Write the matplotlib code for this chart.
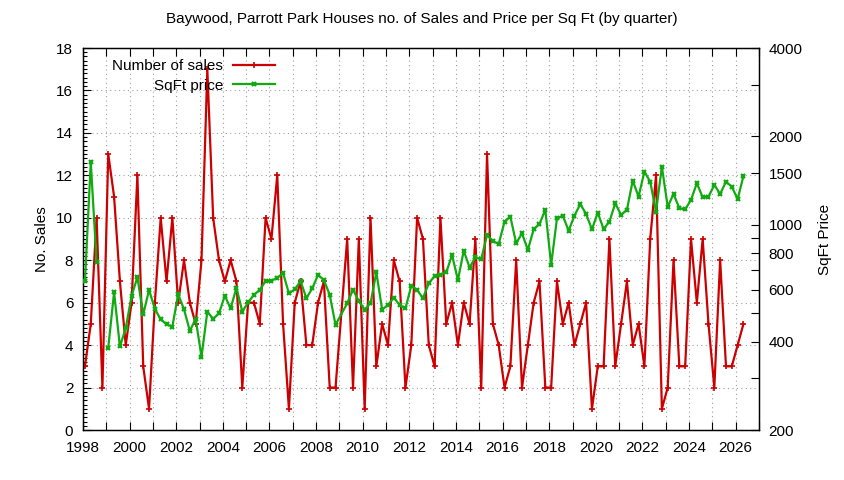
import numpy as np
import pandas as pd
import matplotlib
matplotlib.use("Agg")
import matplotlib.pyplot as plt
from matplotlib.ticker import FixedLocator, MultipleLocator, NullFormatter, FuncFormatter

title = "Baywood, Parrott Park Houses no. of Sales and Price per Sq Ft (by quarter)"
first_year = 1998
x_range = (1998, 2027)

# quarterly number of sales (None = quarter absent from the data)
sales = [3, 5, 10, 2, 13, 11, 7, 4, 6, 12,
         3, 1, 6, 10, 7, 10, 6, 8, 6, 5,
         8, 17, 10, 8, 7, 8, 7, 2, 6, 6,
         5, 10, 9, 12, 5, 1, 6, 7, 4, 4,
         6, 7, 2, 2, None, 9, 2, 9, 1, 10,
         3, 5, 4, 8, 7, 2, 4, 10, 9, 4,
         3, 10, 5, 6, 4, 6, 5, 9, 2, 13,
         5, 4, 2, 3, 8, 2, 4, 6, 7, 2,
         2, 7, 5, 6, 4, 5, 6, 1, 3, 3,
         9, 3, 5, 7, 4, 5, 3, 9, 12, 1,
         2, 8, 3, 3, 9, 6, 9, 5, 2, 8,
         3, 3, 4, 5]

# quarterly price per sq ft (NaN = no price that quarter)
price = [643, 1630, 749, np.nan, 381, 589, 385, 444, 572, 663,
         495, 600, 517, 476, 458, 450, 580, 515, 435, 478,
         355, 506, 478, 499, 573, 519, 610, 506, 544, 577,
         600, 643, 645, 659, 685, 584, 602, 643, 562, 607,
         675, 648, 578, 456, None, 540, 601, 549, 514, 540,
         689, 514, 533, 565, 533, 519, 620, 600, 562, 632,
         669, 675, 689, 789, 648, 816, 715, 775, 763, 923,
         880, 860, 1025, 1066, 865, 935, 821, 965, 1006, 1125,
         730, 1052, 1074, 955, 1074, 1177, 1088, 965, 1100, 967,
         1025, 1184, 1080, 1125, 1413, 1247, 1517, 1402, 1108, 1577,
         1152, 1273, 1138, 1129, 1215, 1385, 1241, 1247, 1367, 1273,
         1402, 1348, 1222, 1466]

sales_ticks = list(range(0, 19, 2))
price_ticks = [200, 400, 600, 800, 1000, 1500, 2000, 4000]
price_minor = [300, 500, 700, 900, 3000]

n = len(sales)
t = first_year + 1 / 12 + 0.25 * np.arange(n)
df = pd.DataFrame({"t": t,
                   "sales": pd.to_numeric(pd.Series(sales), errors="coerce"),
                   "price": pd.to_numeric(pd.Series(price), errors="coerce")})
absent = [s is None for s in sales]
df = df[~np.array(absent)]

plt.rcParams['font.family'] = ['Liberation Sans', 'DejaVu Sans']
FS = 11

fig = plt.figure(figsize=(8.44, 4.80), dpi=100)
ax = fig.add_axes([83 / 844, 50 / 480, 676 / 844, 382 / 480])
ax2 = ax.twinx()

red = '#cc0000'
green = '#11aa11'

l1, = ax.plot(df["t"], df["sales"], color=red, lw=1.6, marker='+', ms=4, mew=1.2,
              label="Number of sales", zorder=3)
l2, = ax2.plot(df["t"], df["price"], color=green, lw=1.6, marker='x', ms=3.5, mew=1.6,
               label="SqFt price", zorder=3)

ax.set_xlim(*x_range)
ax.set_ylim(0, 18)
ax2.set_yscale('log')
ax2.set_ylim(200, 4000)

ax.xaxis.set_major_locator(MultipleLocator(2))
ax.xaxis.set_minor_locator(MultipleLocator(1))
ax.yaxis.set_major_locator(FixedLocator(sales_ticks))
ax.yaxis.set_minor_locator(MultipleLocator(0.2))
ax2.yaxis.set_major_locator(FixedLocator(price_ticks))
ax2.yaxis.set_major_formatter(FuncFormatter(lambda v, p: f"{v:.0f}"))
ax2.yaxis.set_minor_locator(FixedLocator(price_minor))
ax2.yaxis.set_minor_formatter(NullFormatter())

grid_kw = dict(color='#a0a0a0', lw=0.8, linestyle=(0, (1, 3)))
ax.grid(True, which='major', axis='both', **grid_kw)
ax.grid(True, which='minor', axis='x', **grid_kw)
ax.set_axisbelow(True)

ax.tick_params(axis='x', which='major', direction='in', length=6, width=0.8,
               top=True, labelsize=FS, pad=8)
ax.tick_params(axis='x', which='minor', direction='in', length=6, width=0.8, top=True)
ax.tick_params(axis='y', which='major', direction='in', length=6, width=0.8,
               right=False, labelsize=FS, pad=7)
ax.tick_params(axis='y', which='minor', direction='in', length=3, width=0.8, right=False)
ax2.tick_params(axis='y', which='major', direction='in', length=6, width=0.8,
                labelsize=FS, pad=7)
ax2.tick_params(axis='y', which='minor', direction='in', length=6, width=0.8)

for a in (ax, ax2):
    for s in a.spines.values():
        s.set_linewidth(0.9)

ax.set_ylabel("No. Sales", fontsize=FS, labelpad=5)
ax2.set_ylabel("SqFt Price", fontsize=FS, labelpad=11)

fig.text(0.5, 1 - 18.5 / 480, title, ha='center', va='center', fontsize=FS)

leg = ax2.legend(handles=[l1, l2], loc='upper right', markerfirst=False, frameon=False,
                 bbox_to_anchor=(275 / 844, 1 - 59 / 480), bbox_transform=fig.transFigure,
                 borderpad=0, borderaxespad=0, handlelength=2.75, handletextpad=0.65,
                 labelspacing=0.38, fontsize=FS, numpoints=1)

fig.savefig("out.png", dpi=100)
